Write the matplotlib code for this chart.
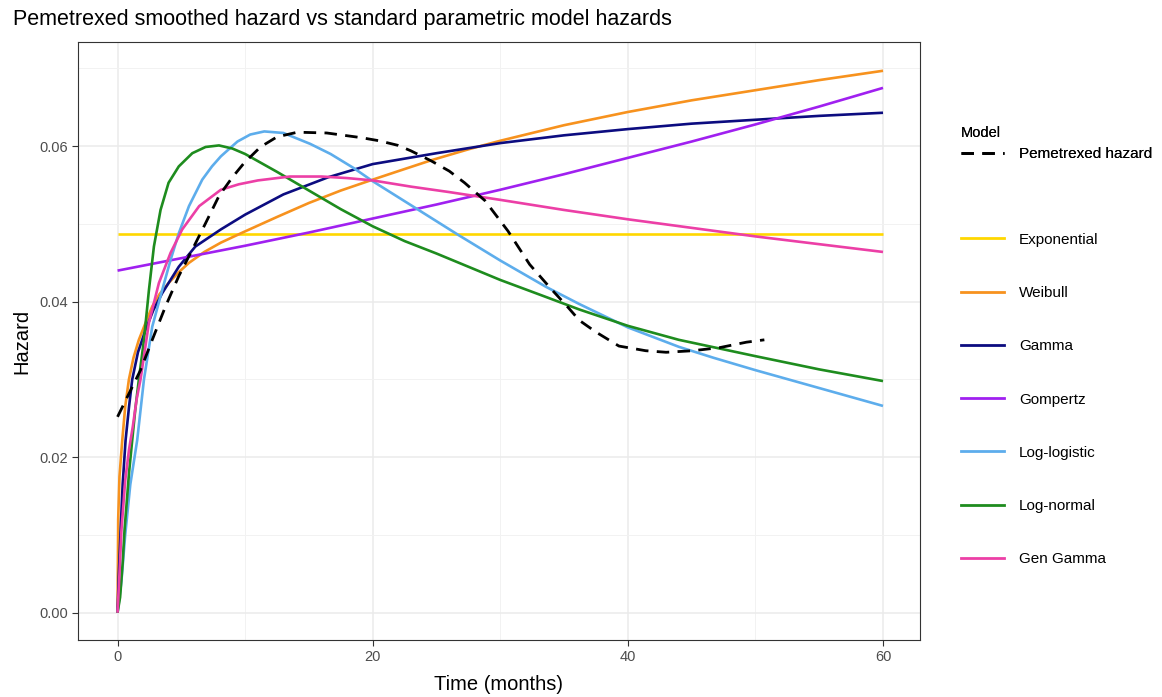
import numpy as np
import matplotlib
matplotlib.use("Agg")
import matplotlib.pyplot as plt
from matplotlib.lines import Line2D
from matplotlib.ticker import MultipleLocator

plt.rcParams['font.family'] = ['Liberation Sans', 'DejaVu Sans']

# smoothed hazard (KM based)
pem_t = [0, 0.9, 1.8, 2.72, 3.76, 4.8, 5.86, 6.9, 7.95, 9.0, 9.9, 11.2, 12.5, 14.1, 16.4, 19.1, 20.5,
         22, 23, 24.6, 26, 27.2, 28.8, 30.6, 32.3, 33.9, 35.3, 36.2, 37.5, 39.3, 41.4, 43, 45.1, 47.2, 49.3, 50.7]
pem_h = [0.0252, 0.0282, 0.0312, 0.0351, 0.0394, 0.0433, 0.0467, 0.0501, 0.0536, 0.0560, 0.0578,
         0.0599, 0.0612, 0.0618, 0.0617, 0.0611, 0.0607, 0.0601, 0.0594, 0.0581, 0.0568, 0.0553, 0.0530,
         0.0491, 0.0448, 0.0418, 0.0393, 0.0376, 0.0361, 0.0343, 0.0337, 0.0335, 0.0337, 0.0341, 0.0348, 0.0351]

exp_t = [0, 60]
exp_h = [0.0487, 0.0487]

wei_t = [0, 0.05, 0.15, 0.37, 0.6, 0.89, 1.25, 1.67, 2.2, 2.72, 3.3, 4.0, 4.8, 5.6, 6.8, 8.1, 9.8, 12.5, 15,
         17.5, 20, 22.2, 24.6, 27.5, 30, 35, 40, 45, 50, 55, 60]
wei_h = [0, 0.012, 0.0175, 0.0222, 0.0265, 0.0300, 0.0328, 0.0351, 0.0373, 0.0394, 0.0410, 0.0424, 0.0438,
         0.0450, 0.0464, 0.0476, 0.0489, 0.0509, 0.0527, 0.0543, 0.0557, 0.0569, 0.0582, 0.0596, 0.0607,
         0.0627, 0.0644, 0.0659, 0.0672, 0.0685, 0.0697]

gam_t = [0, 0.1, 0.25, 0.4, 0.63, 0.9, 1.15, 1.6, 2.2, 2.8, 3.5, 4.8, 6.1, 8.1, 10, 13, 16.5, 20, 25, 30, 35,
         40, 45, 50, 55, 60]
gam_h = [0, 0.005, 0.011, 0.0165, 0.0222, 0.0265, 0.0300, 0.0335, 0.0364, 0.0389, 0.0411, 0.0445, 0.0471,
         0.0493, 0.0512, 0.0538, 0.0560, 0.0577, 0.0591, 0.0604, 0.0614, 0.0622, 0.0629, 0.0634, 0.0639, 0.0643]

gom_t = [0, 5, 10, 15, 20, 25, 30, 35, 40, 45, 50, 55, 60]
gom_h = [0.0440, 0.0456, 0.0472, 0.0489, 0.0507, 0.0525, 0.0544, 0.0564, 0.0585, 0.0606, 0.0628, 0.0651, 0.0675]

llog_t = [0, 0.3, 0.6, 1.0, 1.54, 2.07, 2.72, 3.5, 4.16, 4.8, 5.6, 6.64, 7.4, 8.1, 9.4, 10.4, 11.5, 13, 15.1,
          16.7, 18.5, 20, 23.5, 26.7, 30, 33.6, 36.2, 40, 44, 46.7, 50, 55, 60]
llog_h = [0, 0.004, 0.0100, 0.0165, 0.0222, 0.0300, 0.0368, 0.0415, 0.0454, 0.0488, 0.0523, 0.0557, 0.0574,
          0.0587, 0.0606, 0.0615, 0.0619, 0.0617, 0.0603, 0.0590, 0.0572, 0.0555, 0.0519, 0.0486, 0.0453,
          0.0419, 0.0397, 0.0367, 0.0342, 0.0328, 0.0312, 0.0289, 0.0266]

lnorm_t = [0, 0.2, 0.4, 0.55, 0.9, 1.15, 1.4, 1.67, 2.07, 2.46, 2.85, 3.37, 4.0, 4.8, 5.86, 6.9, 7.95, 9, 10,
           12.5, 15, 17.5, 20, 22.5, 25, 27.5, 30, 33.6, 36.2, 40, 44, 50, 55, 60]
lnorm_h = [0, 0.002, 0.0064, 0.0107, 0.0180, 0.0222, 0.0263, 0.0300, 0.0351, 0.0415, 0.0471, 0.0518, 0.0553,
           0.0574, 0.0591, 0.0599, 0.0601, 0.0597, 0.0590, 0.0567, 0.0543, 0.0519, 0.0497, 0.0478, 0.0462,
           0.0445, 0.0428, 0.0406, 0.0390, 0.0369, 0.0351, 0.0330, 0.0313, 0.0298]

gg_t = [0, 0.15, 0.3, 0.6, 0.9, 1.2, 1.5, 1.8, 2.46, 3.24, 4.16, 5.07, 6.4, 8.1, 9.5, 11, 13.5, 16, 18, 20,
        23, 26, 30, 35, 40, 45, 50, 55, 60]
gg_h = [0, 0.005, 0.0105, 0.0170, 0.0210, 0.0240, 0.0275, 0.0300, 0.0373, 0.0424, 0.0463, 0.0493, 0.0523,
        0.0544, 0.0551, 0.0556, 0.0561, 0.0561, 0.0559, 0.0556, 0.0548, 0.0541, 0.0531, 0.0518, 0.0506,
        0.0495, 0.0484, 0.0474, 0.0464]

models = ['Exponential', 'Weibull', 'Gamma', 'Gompertz', 'Log-logistic', 'Log-normal', 'Gen Gamma']
model_t = [exp_t, wei_t, gam_t, gom_t, llog_t, lnorm_t, gg_t]
model_h = [exp_h, wei_h, gam_h, gom_h, llog_h, lnorm_h, gg_h]
colours = ['#FFD700', '#F7921E', '#0C0C80', '#A020F0', '#5DADEC', '#1E8C1E', '#EC3FA6']

fig = plt.figure(figsize=(11.62, 6.97), dpi=100)
ax = fig.add_axes([78/1162, 1-640/697, (920-78)/1162, (640-42)/697])

for t, h, c in zip(model_t, model_h, colours):
    ax.plot(t, h, color=c, lw=1.9, solid_capstyle='butt', solid_joinstyle='round')
ax.plot(pem_t, pem_h, color='black', lw=2, linestyle=(0, (4.5, 3)))

ax.set_xlim(-3.1, 62.9)
ax.set_ylim(-0.0035, 0.0734)
ax.xaxis.set_major_locator(MultipleLocator(20))
ax.xaxis.set_minor_locator(MultipleLocator(10))
ax.yaxis.set_major_locator(MultipleLocator(0.02))
ax.yaxis.set_minor_locator(MultipleLocator(0.01))
ax.set_yticks([0, 0.02, 0.04, 0.06])
ax.set_yticklabels(['0.00', '0.02', '0.04', '0.06'])
ax.grid(which='major', color='#EBEBEB', lw=1.1)
ax.grid(which='minor', color='#F2F2F2', lw=0.7)
ax.set_axisbelow(True)
ax.tick_params(which='major', length=4, color='#333333', labelcolor='#4D4D4D', labelsize=10.5, pad=3)
ax.tick_params(which='minor', length=0)
for s in ax.spines.values():
    s.set_color('#333333')
    s.set_linewidth(0.8)

ax.set_xlabel('Time (months)', fontsize=14.5, labelpad=8)
ax.set_ylabel('Hazard', fontsize=14.5, labelpad=6)
fig.text(13/1162, 1-19/697, 'Pemetrexed smoothed hazard vs standard parametric model hazards',
         fontsize=15.5, va='center', ha='left')

# legends: linetype then colour
h1 = [Line2D([], [], color='black', lw=2, linestyle=(0, (4.5, 3)))]
leg1 = fig.legend(h1, ['Pemetrexed hazard'], title='Model', loc='upper left',
                  bbox_to_anchor=(947/1162, 1-112/697), frameon=False, fontsize=11,
                  title_fontsize=10.5, handlelength=2.8, handletextpad=1.0, alignment='left')
h2 = [Line2D([], [], color=c, lw=2) for c in colours]
leg2 = fig.legend(h2, models, loc='upper left', bbox_to_anchor=(947/1162, 1-219/697),
                  frameon=False, fontsize=11, handlelength=2.8, handletextpad=1.0, labelspacing=2.57)
fig.add_artist(leg1)

fig.savefig('out.png', dpi=100)
